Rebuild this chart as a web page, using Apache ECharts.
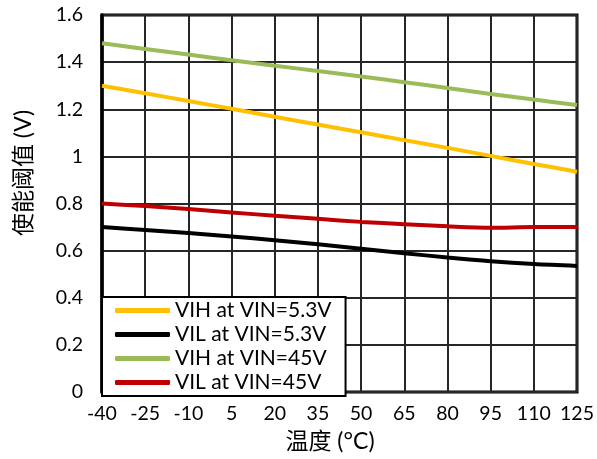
<!DOCTYPE html>
<html>
<head>
<meta charset="utf-8">
<script src="https://cdn.jsdelivr.net/npm/echarts@6/dist/echarts.min.js"></script>
<style>html,body{margin:0;padding:0;background:#fff;}#c{width:597px;height:459px;}</style>
</head>
<body>
<div id="c"></div>
<script>
const categories = ['-40','-25','-10','5','20','35','50','65','80','95','110','125'];
const vihVin53 = [1.30, 1.268, 1.235, 1.202, 1.168, 1.135, 1.102, 1.069, 1.036, 1.002, 0.968, 0.935];
const vilVin53 = [0.70, 0.688, 0.675, 0.66, 0.644, 0.627, 0.608, 0.589, 0.571, 0.555, 0.543, 0.535];
const vihVin45 = [1.48, 1.456, 1.432, 1.408, 1.385, 1.362, 1.339, 1.315, 1.29, 1.265, 1.241, 1.218];
const vilVin45 = [0.80, 0.789, 0.777, 0.762, 0.748, 0.735, 0.722, 0.712, 0.703, 0.697, 0.70, 0.70];
const seriesNames = ['VIH at VIN=5.3V', 'VIL at VIN=5.3V', 'VIH at VIN=45V', 'VIL at VIN=45V'];
const seriesColors = ['#FFC000', '#000000', '#9BBB59', '#C00000'];
const yTicks = { min: 0, max: 1.6, interval: 0.2 };
const xName = '温度 (°C)';
const yName = '使能阈值 (V)';

const font = "Lato, 'Noto Sans CJK SC', sans-serif";
const chart = echarts.init(document.getElementById('c'));
const dataSets = [vihVin53, vilVin53, vihVin45, vilVin45];
chart.setOption({
  animation: false,
  grid: { left: 102, right: 20, top: 15, bottom: 67, show: true, borderColor: '#000', borderWidth: 3, backgroundColor: 'transparent' },
  xAxis: {
    type: 'category', data: categories, boundaryGap: false,
    axisLine: { show: false },
    axisTick: { show: false },
    axisLabel: { color: '#000', fontSize: 19.5, fontFamily: font, margin: 12, interval: 0, hideOverlap: false },
    splitLine: { show: true, interval: 0, lineStyle: { color: '#262626', width: 2 } }
  },
  yAxis: {
    type: 'value', min: yTicks.min, max: yTicks.max, interval: yTicks.interval,
    axisLine: { show: true, lineStyle: { color: '#000', width: 3.5 } },
    axisTick: { show: false },
    axisLabel: { color: '#000', fontSize: 19.5, fontFamily: font, margin: 19 },
    splitLine: { show: true, lineStyle: { color: '#262626', width: 2 } }
  },
  graphic: [
    { type: 'text', x: 330, y: 442, style: { text: xName, fill: '#000', fontSize: 23, fontFamily: font, align: 'center', verticalAlign: 'middle' } },
    { type: 'text', x: 24, y: 173, rotation: Math.PI / 2, style: { text: yName, fill: '#000', fontSize: 23, fontFamily: font, align: 'center', verticalAlign: 'middle' } }
  ],
  legend: {
    orient: 'vertical', left: 102, top: 297,
    width: 243,
    backgroundColor: '#fff', borderColor: '#000', borderWidth: 2,
    padding: [3, 14, 3, 13],
    itemWidth: 55, itemHeight: 5, itemGap: 3,
    icon: 'roundRect',
    textStyle: { color: '#000', fontSize: 21, fontFamily: font, lineHeight: 20, padding: [0, 0, 0, 0] },
    data: seriesNames
  },
  series: dataSets.map((d, i) => ({
    name: seriesNames[i], type: 'line', data: d, smooth: 0.3,
    symbol: 'none', color: seriesColors[i],
    lineStyle: { width: 4, color: seriesColors[i] }
  }))
});
</script>
</body>
</html>
